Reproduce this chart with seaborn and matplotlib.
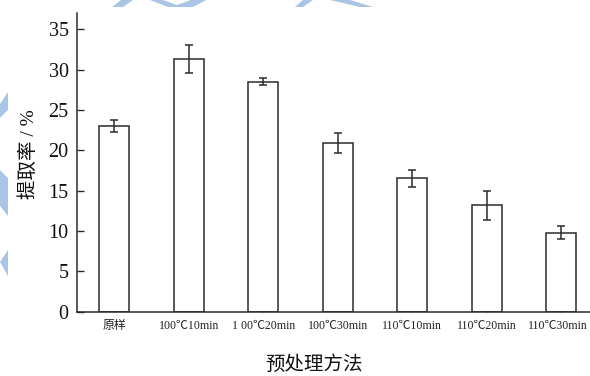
import matplotlib
matplotlib.use("Agg")
import matplotlib.pyplot as plt
import matplotlib.transforms as mtransforms
from matplotlib.patches import Polygon
import seaborn as sns

# Extraction yield for each pretreatment (mean and deviation, %)
categories = ['原样', '100℃10min', '1 00℃20min', '100℃30min',
              '110℃10min', '110℃20min', '110℃30min']
means = [23.0, 31.3, 28.5, 20.9, 16.5, 13.2, 9.8]
errors = [0.8, 1.75, 0.45, 1.25, 1.1, 1.8, 0.85]
yticks = [0, 5, 10, 15, 20, 25, 30, 35]

sns.set_style("ticks")
plt.rcParams['font.family'] = ['Liberation Serif', 'Noto Sans CJK SC', 'DejaVu Sans']

W, H = 590, 376
fig = plt.figure(figsize=(W / 100, H / 100), dpi=100)
fig.patch.set_facecolor('white')

# light blue background decoration (pixel coordinates, origin top-left)
deco_color = '#a9c4e4'
deco_shapes = [
    [(121, 0), (133, 0), (123, 7), (112, 7)],
    [(150, 0), (163, 0), (177, 5), (191, 0), (206, 0), (193, 7), (168, 7)],
    [(303, 0), (313, 0), (303, 7), (295, 7)],
    [(330, 0), (350, 0), (373, 7), (360, 7)],
    [(0, 104), (8, 92), (8, 110), (0, 118)],
    [(0, 170), (8, 178), (8, 216), (0, 206)],
    [(0, 262), (8, 250), (8, 276)],
]
for shp in deco_shapes:
    pts = [(x / W, 1 - y / H) for x, y in shp]
    fig.patches.append(Polygon(pts, closed=True, transform=fig.transFigure,
                               facecolor=deco_color, edgecolor='none', zorder=0))

ax_left, ax_right = 77, 598.5
ax_top, ax_bottom = 13, 311.7
ax = fig.add_axes([ax_left / W, 1 - ax_bottom / H,
                   (ax_right - ax_left) / W, (ax_bottom - ax_top) / H])
ax.set_facecolor('none')

line_color = '#2b2b2b'
sns.barplot(x=categories, y=means, color='white', edgecolor=line_color,
            linewidth=1.1, width=0.4, errorbar=None, ax=ax, zorder=2)

centers = [p.get_x() + p.get_width() / 2 for p in ax.patches]
ax.errorbar(centers, means, yerr=errors, fmt='none', ecolor=line_color,
            elinewidth=1.1, capsize=2.6, capthick=1.1, zorder=3)

ax.set_xlim(-0.5, 6.5)
ax.set_ylim(0, 37)
ax.set_yticks(yticks)
ax.set_yticklabels([str(v) for v in yticks])

sns.despine(ax=ax)
for s in ('left', 'bottom'):
    ax.spines[s].set_color(line_color)
    ax.spines[s].set_linewidth(1.1)

ax.tick_params(axis='y', direction='in', length=5, width=1.0, color=line_color,
               labelsize=14.5, pad=6, labelcolor='#111111')
ax.tick_params(axis='x', direction='in', length=5, width=1.0, color=line_color,
               labelsize=8.6, pad=6, labelcolor='#222222')

# keep the rightmost category label inside the canvas
last = ax.get_xticklabels()[-1]
last.set_transform(last.get_transform() +
                   mtransforms.ScaledTranslation(-3 / 100, 0, fig.dpi_scale_trans))

ax.set_xlabel('预处理方法', fontsize=14, color='#111111')
ax.xaxis.set_label_coords((314 - ax_left) / (ax_right - ax_left), -0.148)
ax.set_ylabel('提取率 / %', fontsize=14, color='#111111')
ax.yaxis.set_label_coords(-0.074, 0.528)

fig.savefig('out.png', dpi=100, facecolor='white')
